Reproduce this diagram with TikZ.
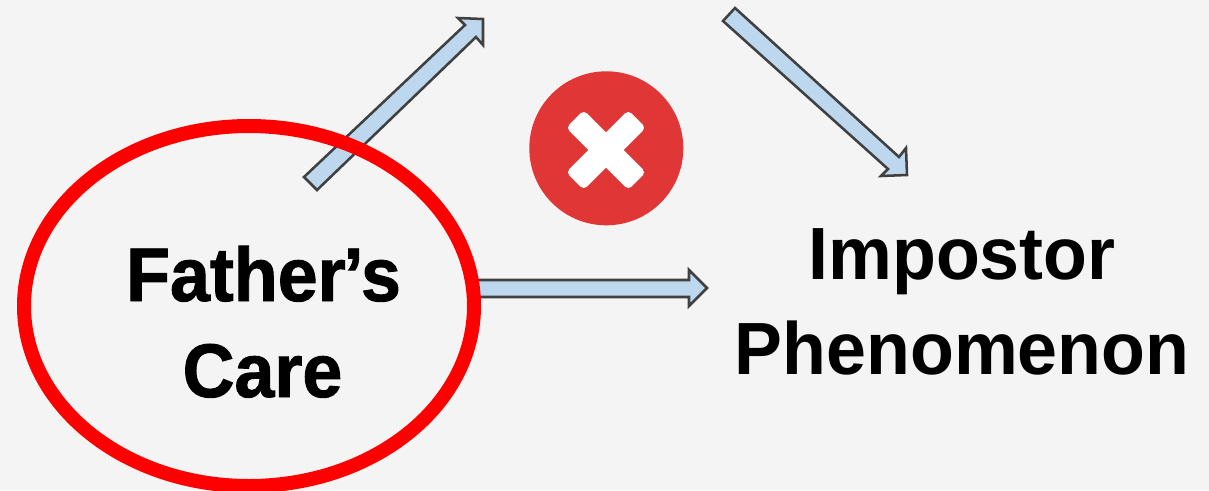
\documentclass[tikz,border=0pt]{standalone}
\usepackage{fontspec}
\setmainfont{Liberation Sans}
\newfontfamily\heavyfont[FakeStretch=0.945,FakeBold=1.2]{Liberation Sans Bold}
\newfontfamily\medfont[FakeStretch=0.97]{Liberation Sans Bold}
\definecolor{bgc}{HTML}{F4F4F4}
\definecolor{arrowfill}{HTML}{BDD7EE}
\definecolor{arrowline}{HTML}{404040}
\definecolor{badge}{HTML}{E03636}
\tikzset{
  blockarrow/.style={draw=arrowline,fill=arrowfill,line width=1.9pt,line join=miter},
  labeltext/.style={inner sep=0pt,anchor=base,text=black},
}
\begin{document}
\begin{tikzpicture}[x=0.75pt,y=-0.75pt]
\path[use as bounding box,fill=bgc] (0,0) rectangle (1209,490);
\draw[blockarrow] (304,177) -- (317,190) -- (476,37) -- (483,45) -- (483,19) -- (458,18) -- (465,25) -- cycle;
\draw[blockarrow] (735,8) -- (723,21) -- (888,169) -- (881,176) -- (907,175) -- (906,148) -- (899,157) -- cycle;
\draw[blockarrow] (470,280) -- (689,280) -- (689,270) -- (707,288) -- (689,306) -- (689,297) -- (470,297) -- cycle;
\draw[red,line width=10.5pt] (249,306) ellipse [x radius=225,y radius=180];
\fill[badge] (606.3,148.3) circle [radius=77];
\begin{scope}[shift={(606,150)}]
\fill[white,rounded corners=3.5pt,rotate=45] (-44,-12.5) rectangle (44,12.5);
\fill[white,rounded corners=3.5pt,rotate=45] (-12.5,-44) rectangle (12.5,44);
\end{scope}
\node[labeltext,font=\fontsize{57pt}{57pt}\heavyfont] (father) at (263.5,301) {Father\kern-1.5pt’s};
\node[labeltext,font=\fontsize{57pt}{57pt}\heavyfont] (care) at (262.5,397) {Care};
\node[labeltext,font=\fontsize{55.5pt}{55.5pt}\medfont] (imp) at (962,279) {Impostor};
\node[labeltext,font=\fontsize{55.5pt}{55.5pt}\medfont] (phen) at (962,374) {Phenomenon};
\end{tikzpicture}
\end{document}
